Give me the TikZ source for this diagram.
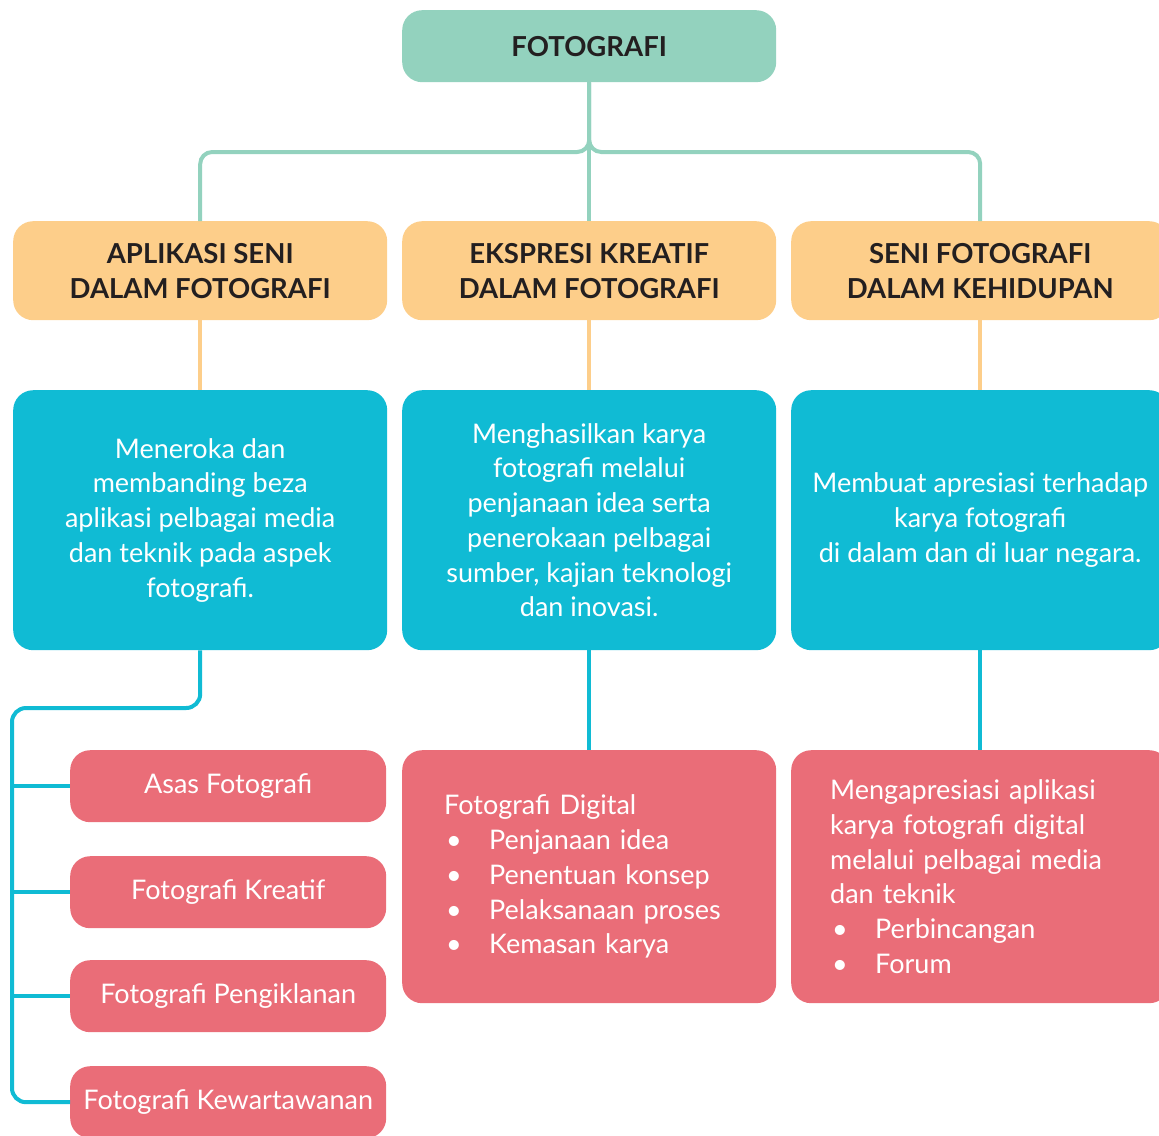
\documentclass[tikz,border=0pt]{standalone}
\usepackage{fontspec}
\setmainfont{Lato}
\definecolor{mint}{HTML}{93D2BE}
\definecolor{orng}{HTML}{FDCE8A}
\definecolor{teal}{HTML}{10BBD4}
\definecolor{rose}{HTML}{EA6D78}
\definecolor{ink}{HTML}{231F20}
\tikzset{
  box/.style={rounded corners=20pt, inner sep=0pt, align=center, anchor=north west},
  headbox/.style={box, fill=mint, text=ink, font=\bfseries\fontsize{27.5}{35}\selectfont},
  catbox/.style={box, fill=orng, text=ink, font=\bfseries\fontsize{27.5}{35}\selectfont},
  descbox/.style={box, fill=teal, text=white, font=\fontsize{27}{34.7}\selectfont},
  itembox/.style={box, fill=rose, text=white, font=\fontsize{27}{34.7}\selectfont},
  mintline/.style={draw=mint, line width=4pt, rounded corners=12pt},
  orngline/.style={draw=orng, line width=4pt},
  tealline/.style={draw=teal, line width=4pt, rounded corners=14pt},
}
\newcommand{\bul}[1]{\hspace*{2pt}\makebox[43pt][l]{\textbullet}#1}
\begin{document}
\begin{tikzpicture}[x=1pt,y=-1pt]
\useasboundingbox (0,0) rectangle (1159,1135);
% top
\node[headbox, minimum width=374pt, minimum height=72pt] (top) at (402,10) {FOTOGRAFI};
% categories
\node[catbox, minimum width=374pt, minimum height=99pt] (c1) at (13,221) {APLIKASI SENI\\DALAM FOTOGRAFI};
\node[catbox, minimum width=374pt, minimum height=99pt] (c2) at (402,221) {EKSPRESI KREATIF\\DALAM FOTOGRAFI};
\node[catbox, minimum width=378pt, minimum height=99pt] (c3) at (791,221) {SENI FOTOGRAFI\\DALAM KEHIDUPAN};
% descriptions
\node[descbox, minimum width=374pt, minimum height=260pt] (d1) at (13,390) {Meneroka dan\\membanding beza\\aplikasi pelbagai media\\dan teknik pada aspek\\fotografi.};
\node[descbox, minimum width=374pt, minimum height=260pt] (d2) at (402,390) {Menghasilkan karya\\fotografi melalui\\penjanaan idea serta\\penerokaan pelbagai\\sumber, kajian teknologi\\dan inovasi.};
\node[descbox, minimum width=378pt, minimum height=260pt] (d3) at (791,390) {Membuat apresiasi terhadap\\karya fotografi\\di dalam dan di luar negara.};
% left items
\node[itembox, minimum width=316pt, minimum height=72pt] (r1) at (70,750) {Asas Fotografi};
\node[itembox, minimum width=316pt, minimum height=72pt] (r2) at (70,856) {Fotografi Kreatif};
\node[itembox, minimum width=316pt, minimum height=72pt] (r3) at (70,960) {Fotografi Pengiklanan};
\node[itembox, minimum width=316pt, minimum height=72pt] (r4) at (70,1066) {Fotografi Kewartawanan};
% center and right lists
\node[itembox, minimum width=374pt, minimum height=253pt, text width=290pt, align=left, inner xsep=42pt] (l2) at (402,750)
  {Fotografi Digital\\\bul{Penjanaan idea}\\\bul{Penentuan konsep}\\\bul{Pelaksanaan proses}\\\bul{Kemasan karya}};
\node[itembox, minimum width=378pt, minimum height=253pt, text width=300pt, align=left, inner xsep=39pt] (l3) at (791,750)
  {Mengapresiasi aplikasi\\karya fotografi digital\\melalui pelbagai media\\dan teknik\\\bul{Perbincangan}\\\bul{Forum}};
% connectors top
\coordinate (hub) at (589,152);
\draw[mintline] (top.south) |- (hub -| c1.north) -- (c1.north);
\draw[mintline] (top.south) |- (hub -| c3.north) -- (c3.north);
\draw[mintline, rounded corners=0pt] (top.south) -- (c2.north);
% orange
\draw[orngline] (c1.south) -- (d1.north);
\draw[orngline] (c2.south) -- (d2.north);
\draw[orngline] (c3.south) -- (d3.north);
% teal
\coordinate (spine) at (12,708);
\draw[tealline] (d1.south) |- (spine) |- (r4.west);
\draw[tealline] (spine |- r1.west) -- (r1.west);
\draw[tealline] (spine |- r2.west) -- (r2.west);
\draw[tealline] (spine |- r3.west) -- (r3.west);
\draw[tealline] (d2.south) -- (l2.north);
\draw[tealline] (d3.south) -- (l3.north);
\end{tikzpicture}
\end{document}
